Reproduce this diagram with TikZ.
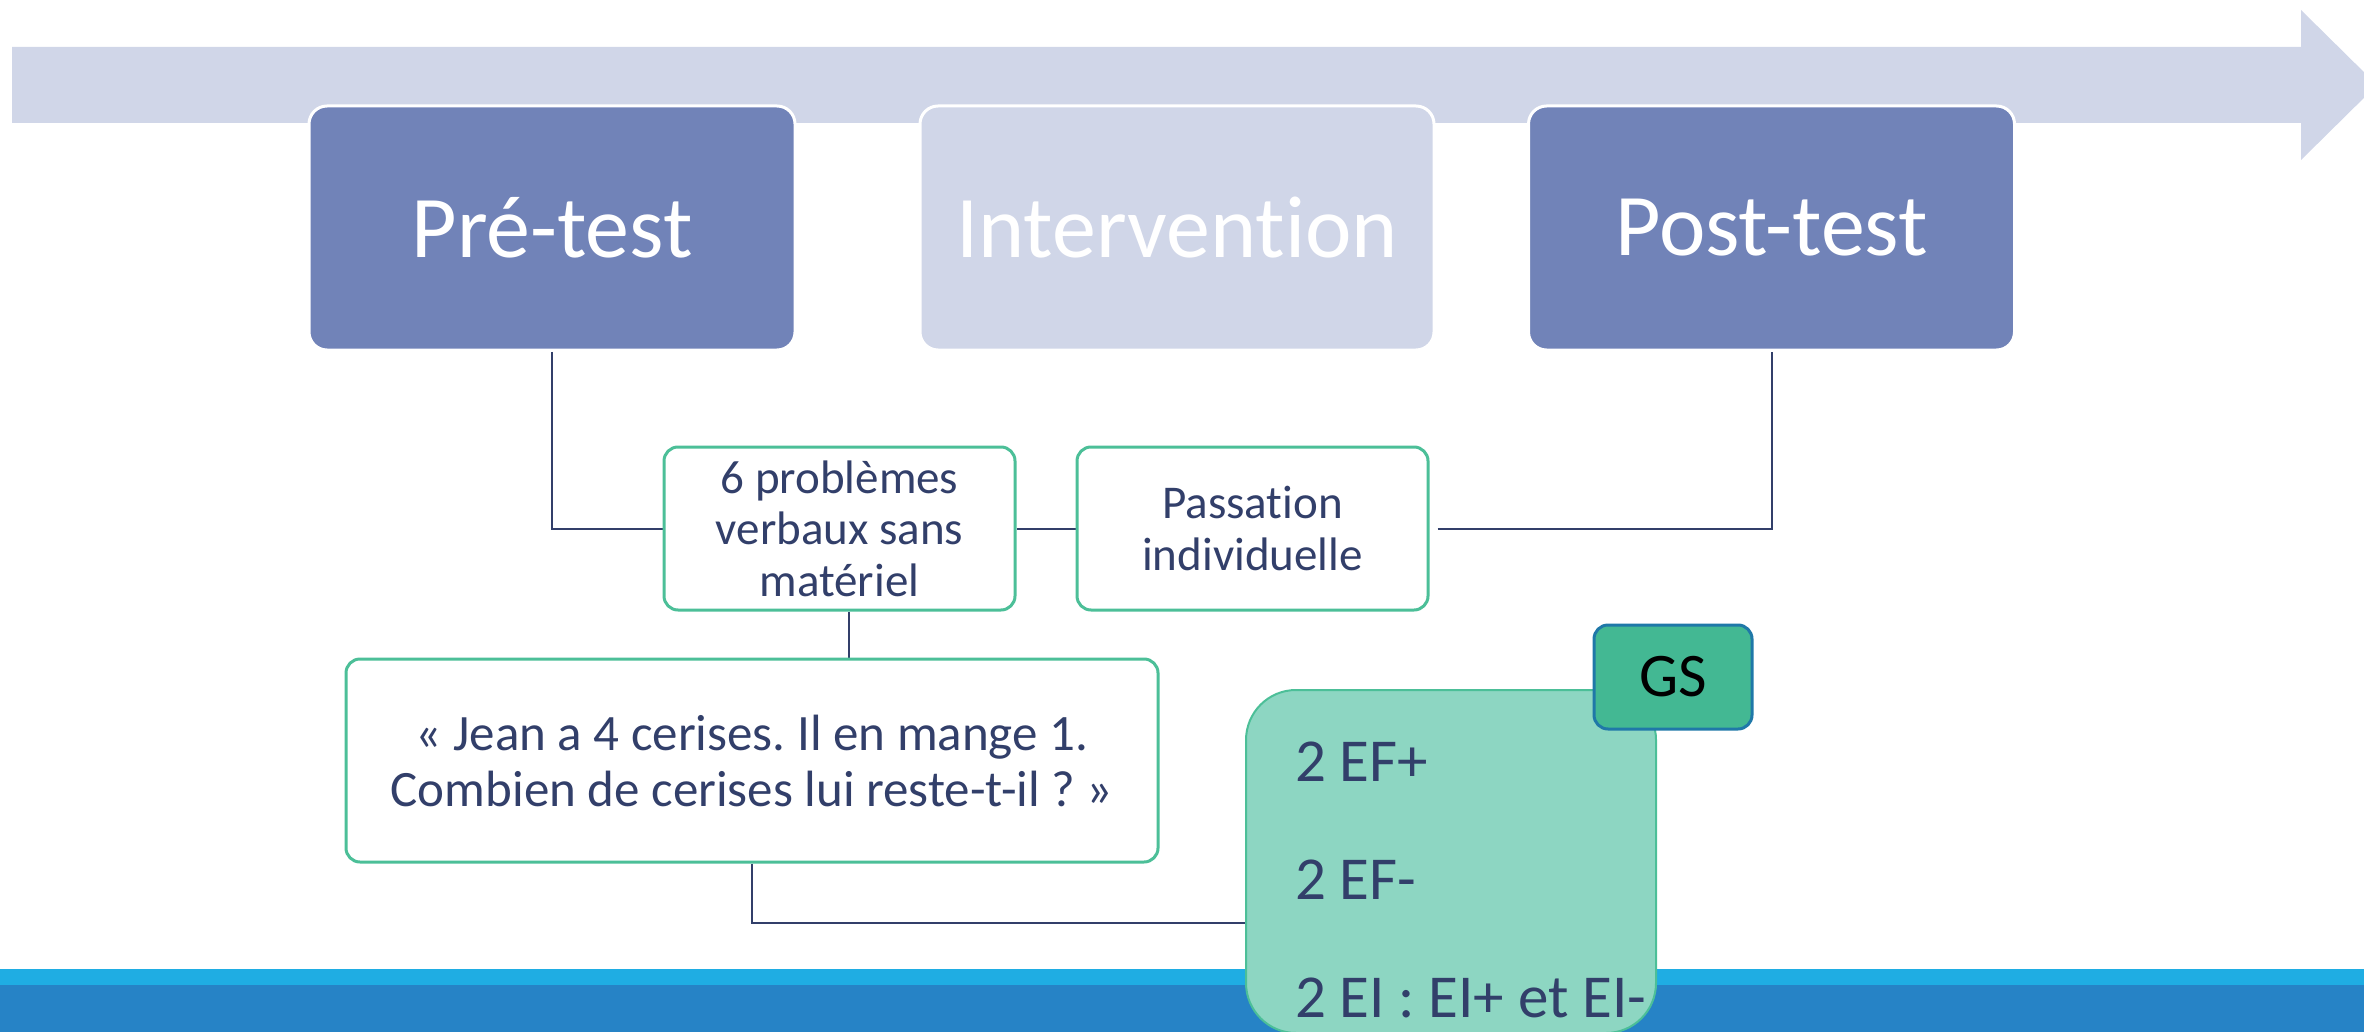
\documentclass[tikz,border=0pt]{standalone}
\usepackage{fontspec}
\setmainfont{Carlito}[Ligatures=NoCommon]
\frenchspacing
\pgfdeclarelayer{background}
\pgfsetlayers{background,main}
\definecolor{bandeau}{HTML}{D0D6E8}
\definecolor{bleuphase}{HTML}{7183B8}
\definecolor{marine}{HTML}{323F6A}
\definecolor{vert}{HTML}{4CBF98}
\definecolor{vertclair}{HTML}{8DD6C2}
\definecolor{vertgs}{HTML}{43B893}
\definecolor{bleugs}{HTML}{1F78A8}
\definecolor{bleuciel}{HTML}{1FADE3}
\definecolor{bleufonce}{HTML}{2683C6}
\tikzstyle{phase} = [draw=white, line width=1.5pt, fill=bleuphase, text=white,
  minimum width=243pt, minimum height=122pt, rounded corners=9pt,
  font=\fontsize{44}{52}\selectfont]
\tikzstyle{phaseclair} = [phase, fill=bandeau, minimum width=257pt]
\tikzstyle{etape} = [draw=vert, line width=1.5pt, fill=white, text=marine,
  align=center, minimum width=175.5pt, minimum height=81.5pt, inner sep=2pt,
  rounded corners=7pt, font=\fontsize{23.5}{25.8}\selectfont]
\tikzstyle{exemple} = [etape, minimum width=406pt, minimum height=101.5pt,
  font=\fontsize{25.5}{28}\selectfont]
\tikzstyle{groupe} = [draw=vert, line width=1pt, fill=vertclair, text=marine,
  align=flush left, text width=156pt, inner xsep=24.5pt, minimum height=171.5pt,
  text height=24.5pt, text depth=104.5pt, rounded corners=25pt,
  font=\fontsize{30.5}{59}\selectfont]
\tikzstyle{niveau} = [draw=bleugs, line width=1.5pt, fill=vertgs, text=black,
  minimum width=79pt, minimum height=52pt, rounded corners=7pt,
  font=\fontsize{31}{36}\selectfont]
\tikzstyle{line} = [draw, color=marine, line width=1pt]
\newcommand{\phase}[2]{node (p#1) [phase] {#2}}
\newcommand{\phaseclair}[2]{node (p#1) [phaseclair] {#2}}
\newcommand{\etape}[2]{node (e#1) [etape] {#2}}
\newcommand{\exemple}[2]{node (e#1) [exemple] {#2}}
\newcommand{\groupe}[2]{node (g#1) [groupe] {#2}}
\newcommand{\niveau}[2]{node (n#1) [niveau] {#2}}

\begin{document}
\begin{tikzpicture}[x=0.5pt, y=-0.5pt]
\useasboundingbox (0,0) rectangle (2364,1032);
\clip (0,0) rectangle (2364,1032);
% Big arrow and bottom bands
\fill[bandeau] (12,47) -- (2301,47) -- (2301,10) -- (2377,85)
  -- (2301,160) -- (2301,123) -- (12,123) -- cycle;
\fill[bleuciel] (0,969) rectangle (2364,985);
\fill[bleufonce] (0,985) rectangle (2364,1032);

% Draw diagram elements
\path (552,228)           \phase{1}{Pré-test};
\path (p1) +(625,0)       \phaseclair{2}{Intervention};
\path (p2) +(594.5,0)     \phase{3}{Post-test};

\path (p1) +(287.5,300.5) \etape{1}{6 problèmes\\verbaux sans\\matériel};
\path (e1) +(413,0)       \etape{2}{Passation\\individuelle};
\path (e1) +(-87.5,232)   \exemple{3}{« Jean a 4 cerises. Il en mange 1.\\Combien de cerises lui reste-t-il ? »};

\path (e3) +(699,101)     \groupe{1}{2 EF+\\2 EF-\\\mbox{2 EI : EI+ et EI-}};
\path (g1) +(222,-184.5)  \niveau{1}{GS};
\path (g1.west) +(0,61.5) coordinate (g1in);

% Draw lines between elements
\begin{pgfonlayer}{background}
\path [line] (p1.south) |- (e1.west);
\path [line] (e1.east) -- (e2.west);
\path [line, shorten <=4pt] (e2.east) -| (p3.south);
\path [line] ([xshift=4.5pt]e1.south) -- ([xshift=4.5pt]e1.south |- e3.north);
\path [line] (e3.south) |- (g1in);
\end{pgfonlayer}
\end{tikzpicture}
\end{document}
